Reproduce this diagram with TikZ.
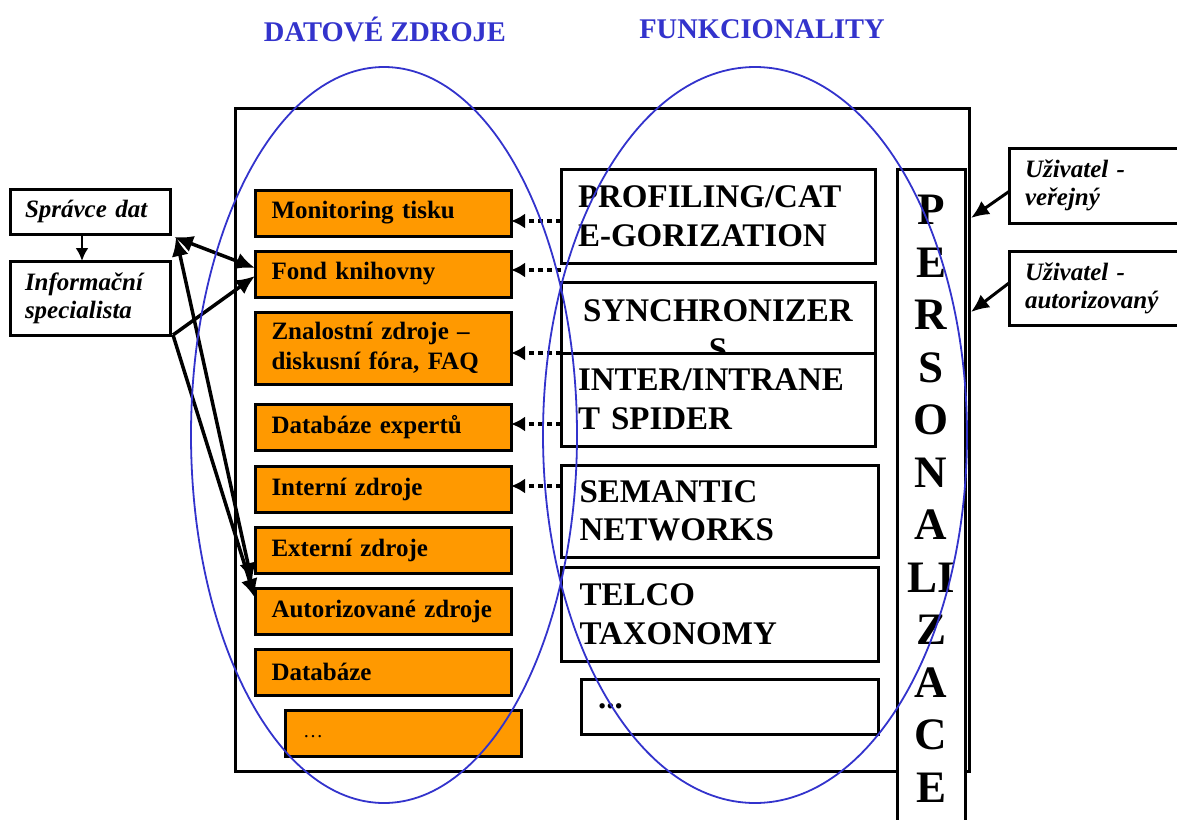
\documentclass[tikz,border=0pt]{standalone}
\usepackage{fontspec}
\setmainfont{Liberation Serif}
\usetikzlibrary{arrows.meta,calc}
\definecolor{srcorange}{HTML}{FF9900}
\definecolor{ovalblue}{HTML}{3333CC}

\begin{document}
\begin{tikzpicture}[x=1pt,y=-1pt,
  every node/.style={inner sep=0pt, outer sep=0pt},
  srcbox/.style={draw, line width=3pt, fill=srcorange, anchor=north west,
    minimum width=256pt, minimum height=46pt, text width=223pt, inner xsep=16.5pt,
    align=left, font=\bfseries\fontsize{25}{30}\selectfont},
  fnbox/.style={draw, line width=3pt, fill=white, anchor=north west,
    minimum width=314pt, text width=280pt, inner xsep=17pt,
    align=left, font=\bfseries\fontsize{33}{38.5}\selectfont},
  sidebox/.style={draw, line width=3pt, fill=white, anchor=north west,
    minimum width=160pt, text width=130pt, inner xsep=15pt,
    align=left, font=\bfseries\itshape\fontsize{25}{28}\selectfont},
  title/.style={text=ovalblue, font=\bfseries\fontsize{28.5}{30}\selectfont},
  letter/.style={font=\bfseries\fontsize{45}{50}\selectfont},
  oval/.style={draw=ovalblue, line width=1.8pt},
  twoway/.style={line width=3.5pt, {Latex[length=19pt,width=17pt]}-{Latex[length=19pt,width=17pt]}},
  oneway/.style={line width=3.5pt, -{Latex[length=19pt,width=17pt]}},
  dotlink/.style={line width=3.5pt, dash pattern=on 5pt off 4pt, -{Latex[length=14pt,width=15pt]}},
  userlink/.style={line width=3pt, -{Latex[length=18pt,width=16pt]}}
]
\useasboundingbox (0,0) rectangle (1177,819);
\clip (0,0) rectangle (1177,819);

% section headings
\node[title] (tdata) at (385,29) {DATOVÉ ZDROJE};
\node[title] (tfunc) at (762,29) {FUNKCIONALITY};

% outer frame
\node[draw, line width=3pt, anchor=north west, minimum width=734pt, minimum height=663pt] (main) at (235,108) {};

% personalization column, running past the lower edge
\node[draw, line width=3pt, fill=white, anchor=north west, minimum width=68pt, minimum height=700pt] (pers) at (897,169) {};
\foreach \ch [count=\i from 0] in {P,E,R,S,O,N,A,LI,Z,A,C,E}
  \node[letter] (p\i) at (931,{210+52.5*\i}) {\ch};

% data sources
\node[srcbox] (a_mon)   at (255,190) {Monitoring tisku};
\node[srcbox] (a_fond)  at (255,251) {Fond knihovny};
\node[srcbox, minimum height=72pt] (a_znal) at (255,312) {Znalostní zdroje –\\diskusní fóra, FAQ};
\node[srcbox] (a_dbexp) at (255,404) {Databáze expertů};
\node[srcbox] (a_int)   at (255,466) {Interní zdroje};
\node[srcbox] (a_ext)   at (255,527) {Externí zdroje};
\node[srcbox] (a_aut)   at (255,588) {Autorizované zdroje};
\node[srcbox] (a_db)    at (255,649) {Databáze};
\node[srcbox, minimum width=236pt, text width=200pt, inner xsep=18pt,
      font=\normalfont\fontsize{20}{24}\selectfont] (a_dots) at (285,710) {\raisebox{-9pt}{…}};

% functionalities
\node[fnbox, minimum height=94pt] (f_prof) at (561,169) {PROFILING/CAT\\E-GORIZATION};
\node[fnbox, minimum height=96pt, align=center] (f_sync) at (561,282) {SYNCHRONIZER\\S};
\node[fnbox, minimum height=93pt] (f_inter) at (561,353) {INTER/INTRANE\\T SPIDER};
\node[fnbox, minimum width=317pt, minimum height=92pt] (f_sem) at (561,465) {SEMANTIC\\NETWORKS};
\node[fnbox, minimum width=317pt, minimum height=94pt] (f_telco) at (561,567) {TELCO\\TAXONOMY};
\node[fnbox, minimum width=297pt, text width=263pt, minimum height=55pt] (f_dots) at (581,679) {...};

% roles on the left
\node[sidebox, minimum height=45pt] (sprava) at (10,189) {Správce dat};
\node[sidebox, minimum height=74pt] (info) at (10,261) {Informační\\specialista};

% users on the right
\node[sidebox, minimum width=200pt, text width=168pt, inner xsep=16pt, minimum height=75pt] (u_ver) at (1009,148) {Uživatel -\\veřejný};
\node[sidebox, minimum width=200pt, text width=168pt, inner xsep=16pt, minimum height=74pt] (u_aut) at (1009,251) {Uživatel -\\autorizovaný};

% role links
\draw[line width=2.5pt, -{Latex[length=13pt,width=13pt]}] ($(sprava.south)+(-8,0)$) -- ($(info.north)+(-8,0)$);
\draw[twoway] ($(sprava.south east)+(4,3)$) -- ($(a_fond.west)+(0,-6)$);
\draw[twoway] ($(sprava.south east)+(6,3)$) -- ($(a_aut.north west)+(-3,-6)$);
\draw[oneway] ($(info.south east)+(3,0)$) -- ($(a_fond.west)+(0,2)$);
\draw[oneway] ($(info.south east)+(3,0)$) -- ($(a_aut.north west)+(0,10)$);

% functionality feeds into data sources
\coordinate (d1) at (561,221);
\coordinate (d2) at (561,270);
\coordinate (d3) at (561,353);
\coordinate (d4) at (561,424);
\coordinate (d5) at (561,486);
\draw[dotlink] (d1) -- (d1 -| a_mon.east);
\draw[dotlink] (d2) -- (d2 -| a_fond.east);
\draw[dotlink] (d3) -- (d3 -| a_znal.east);
\draw[dotlink] (d4) -- (d4 -| a_dbexp.east);
\draw[dotlink] (d5) -- (d5 -| a_int.east);

% user access
\draw[userlink] ($(u_ver.west)+(0,6)$) -- ($(main.north east)+(2,110)$);
\draw[userlink] ($(u_aut.west)+(0,-5)$) -- ($(main.north east)+(2,204)$);

% grouping ovals
\draw[oval] (384,435) ellipse [x radius=193, y radius=368];
\draw[oval] (755,435) ellipse [x radius=212, y radius=368];
\end{tikzpicture}
\end{document}
